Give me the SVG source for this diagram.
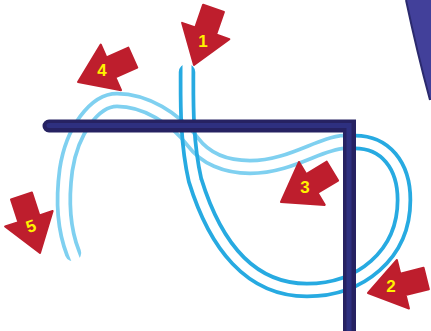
<svg xmlns="http://www.w3.org/2000/svg" xmlns:xlink="http://www.w3.org/1999/xlink" width="431" height="331" viewBox="0 0 431 331">
  <style>
    .rope { fill: none; stroke-width: 16.5; stroke-linecap: round; stroke-linejoin: round; }
    .cut { fill: none; stroke: #000; stroke-width: 9; stroke-linecap: butt; stroke-linejoin: round; }
    .arrow { fill: #be1e2d; stroke: #be1e2d; stroke-width: 2; stroke-linejoin: round; }
    .num { font-family: "Liberation Sans", Arial, sans-serif; font-weight: bold; font-size: 17px; fill: #fff200; text-anchor: middle; }
  </style>
  <defs>
    <path id="arrowShape" d="M0,0 L-25,-36 L-11,-36 L-11,-60 L11,-60 L11,-36 L25,-36 Z"/>
    <mask id="maskLight" maskUnits="userSpaceOnUse" x="0" y="0" width="431" height="331">
      <rect x="0" y="0" width="431" height="331" fill="#fff"/>
      <path class="cut" d="M340,142 L344,142 C320,143 290,167 250,167 C225,167 205,158 193,142 C175,118 145,100 117,100 C95,100 72,130 66,170 C62,200 64,230 73,253 L78,266"/>
    </mask>
    <mask id="maskDark" maskUnits="userSpaceOnUse" x="0" y="0" width="431" height="331">
      <rect x="0" y="0" width="431" height="331" fill="#fff"/>
      <path class="cut" d="M187,58 L187,72 C187,100 186,140 195,180 C215,245 250,290 307,290 C360,290 404,255 404,200 C404,165 385,142 355,142 L345,142"/>
    </mask>
  </defs>

  <rect x="0" y="0" width="431" height="331" fill="#ffffff"/>

  <!-- background shape top right -->
  <g id="corner-shape">
    <path d="M406,0 Q417,52 430,100 L431,100 L431,0 Z" fill="#42409a"/>
    <path d="M406,0 Q417,52 430,100" fill="none" stroke="#2b2a6e" stroke-width="2"/>
  </g>

  <!-- rope -->
  <g id="rope">
    <path id="rope-light" class="rope" stroke="#7fd0f0" mask="url(#maskLight)" d="M344,142 C320,143 290,167 250,167 C225,167 205,158 193,142 C175,118 145,100 117,100 C95,100 72,130 66,170 C62,200 64,230 73,253"/>
    <path id="rope-dark" class="rope" stroke="#27aae1" mask="url(#maskDark)" d="M187,72 C187,100 186,140 195,180 C215,245 250,290 307,290 C360,290 404,255 404,200 C404,165 385,142 355,142"/>
  </g>

  <!-- bar -->
  <g id="bar">
    <path d="M49,126 H349.5 V340" fill="none" stroke="#262262" stroke-width="13" stroke-linecap="round" stroke-linejoin="miter"/>
    <path d="M49,125.5 H349 V340" fill="none" stroke="#2e3080" stroke-width="5" stroke-linecap="round" stroke-linejoin="miter"/>
  </g>

  <!-- arrows -->
  <g id="arrow1">
    <use xlink:href="#arrowShape" href="#arrowShape" class="arrow" transform="translate(194,65) rotate(19)"/>
    <text class="num" x="203" y="47">1</text>
  </g>
  <g id="arrow2">
    <use xlink:href="#arrowShape" href="#arrowShape" class="arrow" transform="translate(368,293) rotate(76)"/>
    <text class="num" x="391" y="292">2</text>
  </g>
  <g id="arrow3">
    <use xlink:href="#arrowShape" href="#arrowShape" class="arrow" transform="translate(281,202) rotate(59)"/>
    <text class="num" x="305" y="193">3</text>
  </g>
  <g id="arrow4">
    <use xlink:href="#arrowShape" href="#arrowShape" class="arrow" transform="translate(78,82) rotate(66)"/>
    <text class="num" x="102" y="76">4</text>
  </g>
  <g id="arrow5">
    <use xlink:href="#arrowShape" href="#arrowShape" class="arrow" transform="translate(40,253) rotate(-18)"/>
    <text class="num" x="31" y="232" transform="rotate(-20 31 226)">5</text>
  </g>
</svg>
